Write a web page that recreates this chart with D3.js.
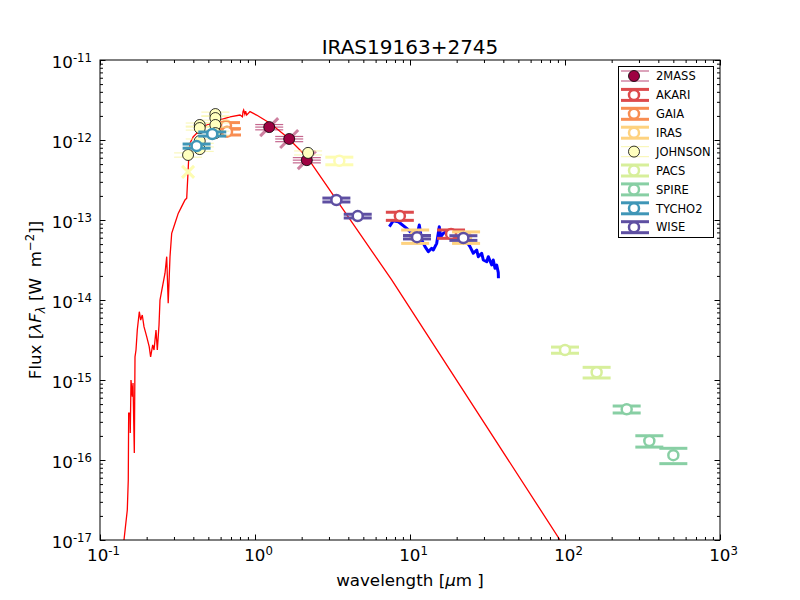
<!DOCTYPE html>
<html>
<head>
<meta charset="utf-8">
<script src="https://cdn.jsdelivr.net/npm/d3@7"></script>
<style>
  body { margin: 0; background: #fff; }
  text { font-family: "DejaVu Sans", sans-serif; }
</style>
</head>
<body>
<script>
// ---- data (wavelength in micron, flux lambda*F_lambda in W m^-2) ----

// stellar model
var modelWave = [0.1428, 0.150, 0.1522, 0.1531, 0.1561, 0.1568, 0.1585, 0.1616, 0.1633, 0.1665,
  0.1682, 0.1707, 0.1740, 0.1793, 0.1830, 0.1874, 0.1922, 0.2001, 0.2077, 0.2121,
  0.2188, 0.2231, 0.2298, 0.2343, 0.2403, 0.2438, 0.2500, 0.2627, 0.2694, 0.2754,
  0.2829, 0.2901, 0.3047, 0.3196, 0.3362, 0.3535, 0.3626, 0.3713, 0.3735, 0.3807,
  0.3999, 0.4206, 0.4530, 0.4879, 0.5256, 0.5945, 0.6899, 0.8003, 0.8300, 0.8366,
  0.8450, 0.8600, 0.8700, 0.8840, 0.9285, 1.024, 1.250, 1.602, 2.156, 2.694,
  7.62, 92.86, 120];
var modelFlux = [1e-17, 2.37e-17, 5.62e-17, 3.84e-16, 3.84e-16, 2.18e-16, 1e-15, 6.18e-16, 9.17e-16, 1.22e-16,
  1.95e-15, 2.37e-15, 4.22e-15, 7.14e-15, 5.62e-15, 6.49e-15, 4.64e-15, 3.48e-15, 2.61e-15, 1.95e-15,
  2.74e-15, 2.37e-15, 4.22e-15, 2.37e-15, 4.87e-15, 1e-14, 1.3e-14, 2.16e-14, 3.48e-14, 9.1e-15,
  3.48e-14, 6.82e-14, 9.1e-14, 1.21e-13, 1.47e-13, 1.78e-13, 1.87e-13, 4.64e-13, 5.91e-13, 9.1e-13,
  1.10e-12, 1.21e-12, 1.33e-12, 1.54e-12, 1.62e-12, 1.78e-12, 1.95e-12, 2.05e-12, 1.95e-12, 2.26e-12,
  2.37e-12, 2.1e-12, 2.3e-12, 2.05e-12, 2.26e-12, 2.05e-12, 1.62e-12, 1.10e-12, 6.18e-13, 3.32e-13,
  1.78e-14, 1e-17, 4.6e-18];

// mid-infrared spectrum
var specWave = [7.36, 7.80, 8.41, 9.52, 10.26, 11.05, 11.48, 11.90, 12.50, 13.13,
  13.80, 14.13, 14.87, 15.22, 15.45, 15.78, 16.40, 17.25, 18.12, 20.01,
  21.56, 23.22, 24.38, 25.61, 26.94, 27.58, 29.01, 29.71, 31.25, 32.00,
  33.66, 34.46, 35.35, 36.25, 37.12, 37.2];
var specFlux = [8.25e-14, 9.8e-14, 9.52e-14, 7.87e-14, 6.82e-14, 6.18e-14, 8.66e-14, 5.62e-14, 4.64e-14, 4.02e-14,
  4.43e-14, 4.22e-14, 5.11e-14, 6.82e-14, 8.25e-14, 6.18e-14, 6.82e-14, 7.14e-14, 6.82e-14, 6.18e-14,
  5.62e-14, 5.36e-14, 4.64e-14, 3.84e-14, 4.22e-14, 3.48e-14, 3.84e-14, 3.16e-14, 3.01e-14, 3.48e-14,
  2.74e-14, 3.16e-14, 2.49e-14, 2.74e-14, 2.2e-14, 1.87e-14];

// photometry
var mass2Wave = [1.235, 1.662, 2.159];
var mass2Flux = [1.45e-12, 1.03e-12, 5.6e-13];
var mass2Err = [1.1e-13, 7.7e-14, 4.2e-14];

var akariWave = [8.6, 18.4];
var akariFlux = [1.12e-13, 6.7e-14];
var akariErr = [1.3e-14, 8e-15];

var gaiaWave = [0.65, 0.66];
var gaiaFlux = [1.51e-12, 1.27e-12];
var gaiaErr = [1.4e-13, 1.15e-13];

var irasWave = [10.8, 23.0];
var irasFlux = [6.3e-14, 6.1e-14];
var irasErr = [1.2e-14, 1.0e-14];

var johnsonWave = [0.37, 0.44, 0.44, 0.44, 0.44, 0.555, 0.555, 0.555, 0.555, 2.2];
var johnsonFlux = [6.5e-13, 1.54e-12, 1.41e-12, 9.7e-13, 7.7e-13, 2.11e-12, 1.88e-12, 1.54e-12, 1.22e-12, 6.9e-13];
var johnsonErr = [4e-14, 9e-14, 8e-14, 6e-14, 5e-14, 1.2e-13, 1.1e-13, 9e-14, 7e-14, 4e-14];
var johnsonLWave = [3.5];
var johnsonLFlux = [5.5e-13];
var johnsonLErr = [6e-14];
var johnsonLimWave = [0.37];
var johnsonLimFlux = [4.0e-13];

var pacsWave = [100, 160];
var pacsFlux = [2.37e-15, 1.25e-15];
var pacsErr = [2.1e-16, 1.9e-16];

var spireWave = [250, 350, 500];
var spireFlux = [4.3e-16, 1.73e-16, 1.15e-16];
var spireErr = [4.3e-17, 2.8e-17, 2.5e-17];

var tychoWave = [0.42, 0.53];
var tychoFlux = [8.4e-13, 1.19e-12];
var tychoErr = [5e-14, 7e-14];

var wiseWave = [3.35, 4.6, 11.1, 22.1];
var wiseFlux = [1.78e-13, 1.12e-13, 6.1e-14, 5.96e-14];
var wiseErr = [1.0e-14, 6e-15, 3e-15, 4e-15];

var catalogs = ["2MASS", "AKARI", "GAIA", "IRAS", "JOHNSON", "PACS", "SPIRE", "TYCHO2", "WISE"];
var catalogColors = ["#9e0142", "#dd4a4c", "#f88d52", "#fed27f", "#ffffbf", "#d7ef9b", "#88cfa4", "#3f96b7", "#5e4fa2"];

var xMajor = [0.1, 1, 10, 100, 1000];
var yMajor = [1e-17, 1e-16, 1e-15, 1e-14, 1e-13, 1e-12, 1e-11];

// ---- layout ----
var width = 800, height = 600;
var plot = {left: 100, top: 60, right: 720, bottom: 540};

var x = d3.scaleLog().domain([0.1, 1000]).range([plot.left, plot.right]);
var y = d3.scaleLog().domain([1e-17, 1e-11]).range([plot.bottom, plot.top]);

var svg = d3.select("body").append("svg")
    .attr("width", width)
    .attr("height", height);

svg.append("rect").attr("width", width).attr("height", height).attr("fill", "#fff");

svg.append("defs").append("clipPath").attr("id", "clip")
  .append("rect")
    .attr("x", plot.left).attr("y", plot.top)
    .attr("width", plot.right - plot.left).attr("height", plot.bottom - plot.top);

var g = svg.append("g").attr("clip-path", "url(#clip)");

var line = d3.line().x(function(d) { return x(d[0]); }).y(function(d) { return y(d[1]); });

// model and spectrum
g.append("path")
  .datum(d3.zip(modelWave, modelFlux))
  .attr("fill", "none")
  .attr("stroke", "#ff0000")
  .attr("stroke-width", 1.3)
  .attr("d", line);

g.append("path")
  .datum(d3.zip(specWave, specFlux))
  .attr("fill", "none")
  .attr("stroke", "#0000ff")
  .attr("stroke-width", 3)
  .attr("stroke-linejoin", "round")
  .attr("d", line);

// photometric points with error caps
function points(wave, flux, err) {
  return wave.map(function(w, i) {
    var e = err ? err[i] : 0;
    return {x: x(w), y: y(flux[i]), hi: y(flux[i] + e), lo: y(flux[i] - e)};
  });
}

function drawCaps(grp, pts, color, sw, opacity) {
  ["hi", "lo"].forEach(function(k) {
    grp.selectAll(null).data(pts).enter().append("line")
      .attr("x1", function(d) { return d.x - 14; })
      .attr("x2", function(d) { return d.x + 14; })
      .attr("y1", function(d) { return d[k]; })
      .attr("y2", function(d) { return d[k]; })
      .attr("stroke", color)
      .attr("stroke-width", sw)
      .attr("stroke-opacity", opacity);
  });
}

function drawOpen(wave, flux, err, color) {
  var pts = points(wave, flux, err);
  var grp = g.append("g");
  drawCaps(grp, pts, color, 3, 1);
  grp.selectAll("circle").data(pts).enter().append("circle")
    .attr("cx", function(d) { return d.x; })
    .attr("cy", function(d) { return d.y; })
    .attr("r", 5)
    .attr("fill", "#fff")
    .attr("stroke", color)
    .attr("stroke-width", 2.5);
}

function drawFilled(wave, flux, err, color, capColor, capOpacity) {
  var pts = points(wave, flux, err);
  var grp = g.append("g");
  drawCaps(grp, pts, capColor, 1.2, capOpacity);
  grp.selectAll("circle").data(pts).enter().append("circle")
    .attr("cx", function(d) { return d.x; })
    .attr("cy", function(d) { return d.y; })
    .attr("r", 5.5)
    .attr("fill", color)
    .attr("stroke", "#000")
    .attr("stroke-width", 0.8);
  return {grp: grp, pts: pts};
}

// 2MASS
var m2 = drawFilled(mass2Wave, mass2Flux, mass2Err, catalogColors[0], catalogColors[0], 0.6);
m2.grp.selectAll("line.mid").data(m2.pts).enter().insert("line", "circle")
  .attr("x1", function(d) { return d.x - 14; }).attr("x2", function(d) { return d.x + 14; })
  .attr("y1", function(d) { return d.y; }).attr("y2", function(d) { return d.y; })
  .attr("stroke", catalogColors[0]).attr("stroke-width", 1.2).attr("stroke-opacity", 0.6);
m2.grp.selectAll("line.diag").data(m2.pts).enter().insert("line", "circle")
  .attr("x1", function(d) { return d.x - 9; }).attr("x2", function(d) { return d.x + 9; })
  .attr("y1", function(d) { return d.y + 9; }).attr("y2", function(d) { return d.y - 9; })
  .attr("stroke", catalogColors[0]).attr("stroke-width", 3).attr("stroke-opacity", 0.5);

drawOpen(akariWave, akariFlux, akariErr, catalogColors[1]);
drawOpen(gaiaWave, gaiaFlux, gaiaErr, catalogColors[2]);
drawOpen(irasWave, irasFlux, irasErr, catalogColors[3]);

// JOHNSON
drawFilled(johnsonWave, johnsonFlux, johnsonErr, catalogColors[4], "#f6f3a0", 0.7);
drawOpen(johnsonLWave, johnsonLFlux, johnsonLErr, "#fdfcb2");
g.selectAll("path.limit").data(points(johnsonLimWave, johnsonLimFlux)).enter().append("path")
  .attr("d", function(d) {
    return "M" + (d.x - 6) + "," + (d.y - 6) + "L" + (d.x + 6) + "," + (d.y + 6) +
           "M" + (d.x - 6) + "," + (d.y + 6) + "L" + (d.x + 6) + "," + (d.y - 6);
  })
  .attr("stroke", "#fdfcb2").attr("stroke-width", 3).attr("fill", "none");

drawOpen(pacsWave, pacsFlux, pacsErr, catalogColors[5]);
drawOpen(spireWave, spireFlux, spireErr, catalogColors[6]);
drawOpen(tychoWave, tychoFlux, tychoErr, catalogColors[7]);
drawOpen(wiseWave, wiseFlux, wiseErr, catalogColors[8]);

// ---- axes ----
function isMajor(v) { return Math.abs(Math.log10(v) - Math.round(Math.log10(v))) < 1e-6; }
var xMinor = x.ticks().filter(function(v) { return !isMajor(v); });
var yMinor = y.ticks().filter(function(v) { return !isMajor(v); });

function tickAxis(gen, tr, vals, size) {
  var a = svg.append("g").attr("transform", tr)
    .call(gen.tickValues(vals).tickSize(size).tickFormat(""));
  a.select(".domain").remove();
  a.selectAll("line").attr("stroke", "#000").attr("stroke-width", 1);
  return a;
}

tickAxis(d3.axisBottom(x), "translate(0," + plot.bottom + ")", xMinor, -3);
tickAxis(d3.axisTop(x), "translate(0," + plot.top + ")", xMinor, -3);
tickAxis(d3.axisTop(x), "translate(0," + plot.top + ")", xMajor, -5.5);
tickAxis(d3.axisLeft(y), "translate(" + plot.left + ",0)", yMinor, -3);
tickAxis(d3.axisRight(y), "translate(" + plot.right + ",0)", yMinor, -3);
tickAxis(d3.axisRight(y), "translate(" + plot.right + ",0)", yMajor, -5.5);

function powerLabel(text) {
  text.each(function(d) {
    var t = d3.select(this);
    t.text(null);
    t.append("tspan").text("10");
    t.append("tspan").attr("dy", "-0.48em").attr("font-size", "11.7px").text(Math.round(Math.log10(d)));
  });
}

var xAxis = svg.append("g").attr("transform", "translate(0," + plot.bottom + ")")
  .call(d3.axisBottom(x).tickValues(xMajor).tickSize(-5.5).tickPadding(10));
xAxis.select(".domain").remove();
xAxis.selectAll("text")
  .attr("y", 21).attr("dy", 0)
  .attr("font-size", "16.7px").attr("fill", "#000")
  .call(powerLabel);
xAxis.selectAll("text").attr("dx", "3px");

var yAxis = svg.append("g").attr("transform", "translate(" + plot.left + ",0)")
  .call(d3.axisLeft(y).tickValues(yMajor).tickSize(-5.5).tickPadding(8));
yAxis.select(".domain").remove();
yAxis.selectAll("text")
  .attr("dy", "0.45em")
  .attr("font-size", "16.7px").attr("fill", "#000")
  .call(powerLabel);

// frame
svg.append("rect")
  .attr("x", plot.left).attr("y", plot.top)
  .attr("width", plot.right - plot.left).attr("height", plot.bottom - plot.top)
  .attr("fill", "none").attr("stroke", "#000").attr("stroke-width", 1);

// ---- labels ----
svg.append("text")
  .attr("x", (plot.left + plot.right) / 2).attr("y", 54)
  .attr("text-anchor", "middle").attr("font-size", "20px")
  .text("IRAS19163+2745");

var xl = svg.append("text")
  .attr("x", (plot.left + plot.right) / 2).attr("y", 586)
  .attr("text-anchor", "middle").attr("font-size", "16.7px");
xl.append("tspan").text("wavelength [");
xl.append("tspan").attr("font-style", "italic").text("\u03bc");
xl.append("tspan").text("m ]");

var yl = svg.append("text")
  .attr("transform", "translate(41," + ((plot.top + plot.bottom) / 2) + ") rotate(-90)")
  .attr("text-anchor", "middle").attr("font-size", "16.7px");
yl.append("tspan").text("Flux [");
yl.append("tspan").attr("font-style", "italic").text("\u03bbF");
yl.append("tspan").attr("font-style", "italic").attr("font-size", "11.7px").attr("dy", "4").text("\u03bb");
yl.append("tspan").attr("dy", "-4").text(" [W\u00a0\u00a0m");
yl.append("tspan").attr("font-size", "11.7px").attr("dy", "-7").text("\u22122");
yl.append("tspan").attr("dy", "7").text("]]");

// ---- legend ----
var legend = svg.append("g").attr("transform", "translate(618,66)");
legend.append("rect")
  .attr("x", 0.5).attr("y", 0.5).attr("width", 95).attr("height", 171)
  .attr("fill", "#fff").attr("stroke", "#000").attr("stroke-width", 1);

var rows = legend.selectAll("g.row").data(catalogs).enter().append("g")
  .attr("transform", function(d, i) { return "translate(0," + (10 + i * 18.9) + ")"; });

rows.each(function(name, i) {
  var r = d3.select(this), c = catalogColors[i];
  if (name === "2MASS" || name === "JOHNSON") {
    [-5, 5].forEach(function(dy) {
      r.append("line").attr("x1", 3).attr("x2", 31).attr("y1", dy).attr("y2", dy)
        .attr("stroke", name === "2MASS" ? c : "#f6f3a0").attr("stroke-width", 1.2)
        .attr("stroke-opacity", name === "2MASS" ? 0.6 : 0.7);
    });
    r.append("circle").attr("cx", 16).attr("cy", 0).attr("r", 5.5)
      .attr("fill", c).attr("stroke", "#000").attr("stroke-width", 0.8);
  } else {
    [-5.5, 5.5].forEach(function(dy) {
      r.append("line").attr("x1", 3).attr("x2", 31).attr("y1", dy).attr("y2", dy)
        .attr("stroke", c).attr("stroke-width", 3);
    });
    r.append("circle").attr("cx", 16).attr("cy", 0).attr("r", 5)
      .attr("fill", "#fff").attr("stroke", c).attr("stroke-width", 2.5);
  }
  r.append("text").attr("x", 38).attr("y", 4.2)
    .attr("font-size", "11.5px").text(name);
});
</script>
</body>
</html>
